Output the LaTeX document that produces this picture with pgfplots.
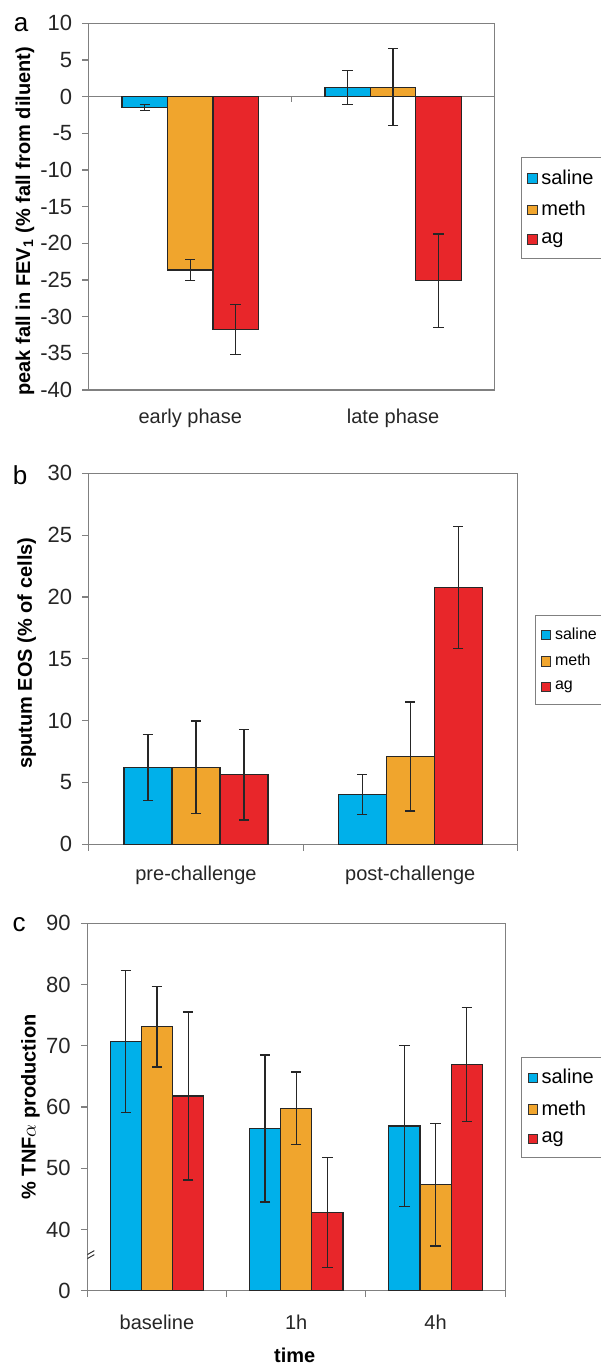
\documentclass[border=0pt]{standalone}
\usepackage{pgfplots}
\pgfplotsset{compat=1.18}
\usepackage{fontspec}
\setmainfont{Liberation Sans}

\definecolor{saline}{RGB}{0,176,234}
\definecolor{meth}{RGB}{240,165,45}
\definecolor{ag}{RGB}{232,38,42}
\definecolor{axgray}{RGB}{128,128,128}

\pgfplotsset{
  panel/.style={
    scale only axis,
    ybar,
    anchor=south west,
    axis line style={axgray, line width=0.6pt},
    tick style={axgray, line width=0.6pt},
    tick align=outside,
    ytick pos=left,
    xtick pos=lower,
    major tick length=3.2pt,
    tick label style={font=\fontsize{10}{12}\selectfont, text=black!85},
    yticklabel style={font=\fontsize{11}{13}\selectfont, xshift=-1.6pt},
    /pgf/number format/assume math mode=true,
    every axis y label/.style={rotate=90, anchor=center, font=\bfseries\fontsize{10}{12}\selectfont},
    legend cell align=left,
    legend image code/.code={\draw[##1,draw=black!80,line width=0.4pt] (0pt,-2.3pt) rectangle (4.6pt,2.3pt);},
    legend style={draw=axgray, line width=0.5pt, anchor=north west,
      font=\fontsize{10}{12}\selectfont, row sep=3pt, inner ysep=4pt, inner xsep=3pt},
    every axis plot/.append style={draw=black!85, line width=0.6pt, bar width=0.224},
    error bars/y dir=both,
    error bars/y explicit,
    error bars/error bar style={black!85, line width=0.65pt},
    error bars/error mark options={rotate=90, black!85, line width=0.65pt, mark size=2.6pt},
    xtick=\empty,
  }
}

\begin{document}
\begin{tikzpicture}
\useasboundingbox (0,0) rectangle (300pt,682pt);

% ---- panel a ----
\begin{axis}[panel,
  at={(44.4pt,487pt)}, width=202.85pt, height=183.35pt,
  xmin=-0.5, xmax=1.5, ymin=-40, ymax=10,
  ytick={-40,-35,...,10},
  extra x ticks={0,1}, extra x tick labels={early phase,late phase},
  extra x tick style={major tick length=0pt, tick label style={yshift=-6pt}},
  ylabel={peak fall in FEV\textsubscript{1} (\% fall from diluent)},
  every axis y label/.append style={at={(axis description cs:-0.1575,0.46)}},
  legend style={at={(axis description cs:1.065,0.635)}},
]
\draw[axgray, line width=0.5pt] (axis cs:-0.5,0) -- (axis cs:1.5,0);
\draw[axgray, line width=0.5pt] (axis cs:0.5,0) -- ++(0pt,-2.5pt);
\addplot[fill=saline, bar shift=-0.224] coordinates {(0,-1.45) +- (0,0.4) (1,1.27) +- (0,2.3)};
\addplot[fill=meth, bar shift=0] coordinates {(0,-23.65) +- (0,1.45) (1,1.27) +- (0,5.25)};
\addplot[fill=ag, bar shift=0.224] coordinates {(0,-31.75) +- (0,3.4) (1,-25.1) +- (0,6.35)};
\legend{saline,meth,ag}
\end{axis}

% ---- panel b ----
\begin{axis}[panel,
  at={(44.4pt,259.85pt)}, width=214.3pt, height=185.5pt,
  xmin=-0.5, xmax=1.5, ymin=0, ymax=30,
  ytick={0,5,...,30},
  xtick={-0.5,0.5,1.5}, xticklabels={},
  extra x ticks={0,1}, extra x tick labels={pre-challenge,post-challenge},
  extra x tick style={major tick length=0pt, tick label style={yshift=-7.5pt}},
  ylabel={sputum EOS (\% of cells)},
  every axis y label/.append style={at={(axis description cs:-0.145,0.515)}},
  legend style={at={(axis description cs:1.04,0.618)}, font=\fontsize{8}{10}\selectfont, row sep=2pt},
]
\addplot[fill=saline, bar shift=-0.224] coordinates {(0,6.23) +- (0,2.67) (1,4.02) +- (0,1.6)};
\addplot[fill=meth, bar shift=0] coordinates {(0,6.23) +- (0,3.73) (1,7.09) +- (0,4.41)};
\addplot[fill=ag, bar shift=0.224] coordinates {(0,5.62) +- (0,3.65) (1,20.75) +- (0,4.92)};
\legend{saline,meth,ag}
\end{axis}

% ---- panel c (broken axis: 30 is shown as 0) ----
\begin{axis}[panel,
  at={(43.65pt,36.65pt)}, width=208.95pt, height=183.7pt,
  xmin=-0.5, xmax=2.5, ymin=30, ymax=90,
  ytick={30,40,...,90}, yticklabels={0,40,50,60,70,80,90},
  xtick={-0.5,0.5,1.5,2.5}, xticklabels={},
  extra x ticks={0,1,2}, extra x tick labels={baseline,1h,4h},
  extra x tick style={major tick length=0pt, tick label style={yshift=-8.5pt}},
  ylabel={\% TNF$\alpha$ production},
  every axis y label/.append style={at={(axis description cs:-0.136,0.5)}},
  legend style={at={(axis description cs:1.038,0.637)}},
]
\addplot[fill=saline, bar shift=-0.224] coordinates {(0,70.65) +- (0,11.6) (1,56.5) +- (0,12.0) (2,56.9) +- (0,13.1)};
\addplot[fill=meth, bar shift=0] coordinates {(0,73.1) +- (0,6.55) (1,59.8) +- (0,5.9) (2,47.3) +- (0,10.0)};
\addplot[fill=ag, bar shift=0.224] coordinates {(0,61.8) +- (0,13.7) (1,42.8) +- (0,9.0) (2,66.9) +- (0,9.3)};
\legend{saline,meth,ag}
\draw[black!80, line width=0.5pt] (axis description cs:0,0.09) ++(-3.5pt,-2.5pt) -- ++(7pt,4pt);
\draw[black!80, line width=0.5pt] (axis description cs:0,0.09) ++(-3.5pt,-0.5pt) -- ++(7pt,4pt);
\end{axis}

\node[font=\fontsize{13}{15}\selectfont] at (10.5pt,669.5pt) {a};
\node[font=\fontsize{13}{15}\selectfont] at (10pt,444.5pt) {b};
\node[font=\fontsize{13}{15}\selectfont] at (9.5pt,219.5pt) {c};
\node[font=\bfseries\fontsize{10}{12}\selectfont] at (147.35pt,4.5pt) {time};
\end{tikzpicture}
\end{document}
